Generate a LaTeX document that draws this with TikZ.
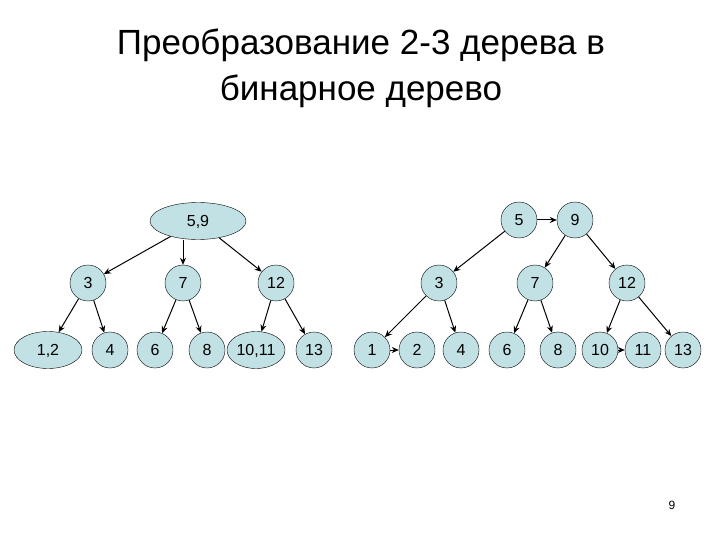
\documentclass[tikz,border=0pt]{standalone}
\usepackage{fontspec}
\setmainfont{Liberation Sans}
\usetikzlibrary{shapes.geometric,arrows.meta}
\begin{document}
\begin{tikzpicture}[x=1pt,y=-1pt,
  nd/.style={circle,draw=black,fill=nfill,minimum size=36pt,inner sep=0pt,font=\fontsize{16}{18}\selectfont},
  el/.style={ellipse,draw=black,fill=nfill,minimum height=37pt,inner sep=0pt,text height=11.5pt,text depth=0pt,font=\fontsize{16}{18}\selectfont},
  ar/.style={-{Stealth[length=7pt,width=6pt]},line width=1pt}]
\definecolor{nfill}{HTML}{C2E1E4}
\useasboundingbox (0,0) rectangle (720,540);
\node[font=\fontsize{35}{46}\selectfont,align=center] (title) at (361,68) {Преобразование 2-3 дерева в\\бинарное дерево};
% left tree
\node[el,minimum width=96pt] (L59) at (198,221) {5,9};
\node[nd] (L3) at (88,283) {3};
\node[nd] (L7) at (183,283) {7};
\node[nd] (L12) at (276,283) {12};
\node[el,minimum width=68pt] (L12a) at (48,350) {1,2};
\node[nd] (L4) at (110,350) {4};
\node[nd] (L6) at (155,350) {6};
\node[nd] (L8) at (207,350) {8};
\node[el,minimum width=58pt] (L1011) at (256,350) {10,11};
\node[nd] (L13) at (314,350) {13};
\draw[ar] (L59) -- (L3);
\draw[ar] (L59.south -| L7) -- (L7);
\draw[ar] (L59) -- (L12);
\draw[ar] (L3) -- (L12a);
\draw[ar] (L3) -- (L4);
\draw[ar] (L7) -- (L6);
\draw[ar] (L7) -- (L8);
\draw[ar] (L12) -- (L1011);
\draw[ar] (L12) -- (L13);
% right tree
\node[nd] (R5) at (519,220) {5};
\node[nd] (R9) at (575,220) {9};
\node[nd] (R3) at (439,283) {3};
\node[nd] (R7) at (535,283) {7};
\node[nd] (R12) at (627,283) {12};
\node[nd] (R1) at (372,350) {1};
\node[nd] (R2) at (417,350) {2};
\node[nd] (R4) at (461,350) {4};
\node[nd] (R6) at (507,350) {6};
\node[nd] (R8) at (558,350) {8};
\node[nd] (R10) at (600,350) {10};
\node[nd] (R11) at (643,350) {11};
\node[nd] (R13) at (683,350) {13};
\draw[ar] (R5) -- (R9);
\draw[ar] (R5) -- (R3);
\draw[ar] (R9) -- (R7);
\draw[ar] (R9) -- (R12);
\draw[ar] (R3) -- (R1);
\draw[ar] (R1) -- (R2);
\draw[ar] (R3) -- (R4);
\draw[ar] (R7) -- (R6);
\draw[ar] (R7) -- (R8);
\draw[ar] (R12) -- (R10);
\draw[ar] (R10) -- (R11);
\draw[ar] (R12) -- (R13);
\node[font=\fontsize{12}{14}\selectfont] (pg) at (672,505) {9};
\end{tikzpicture}
\end{document}
